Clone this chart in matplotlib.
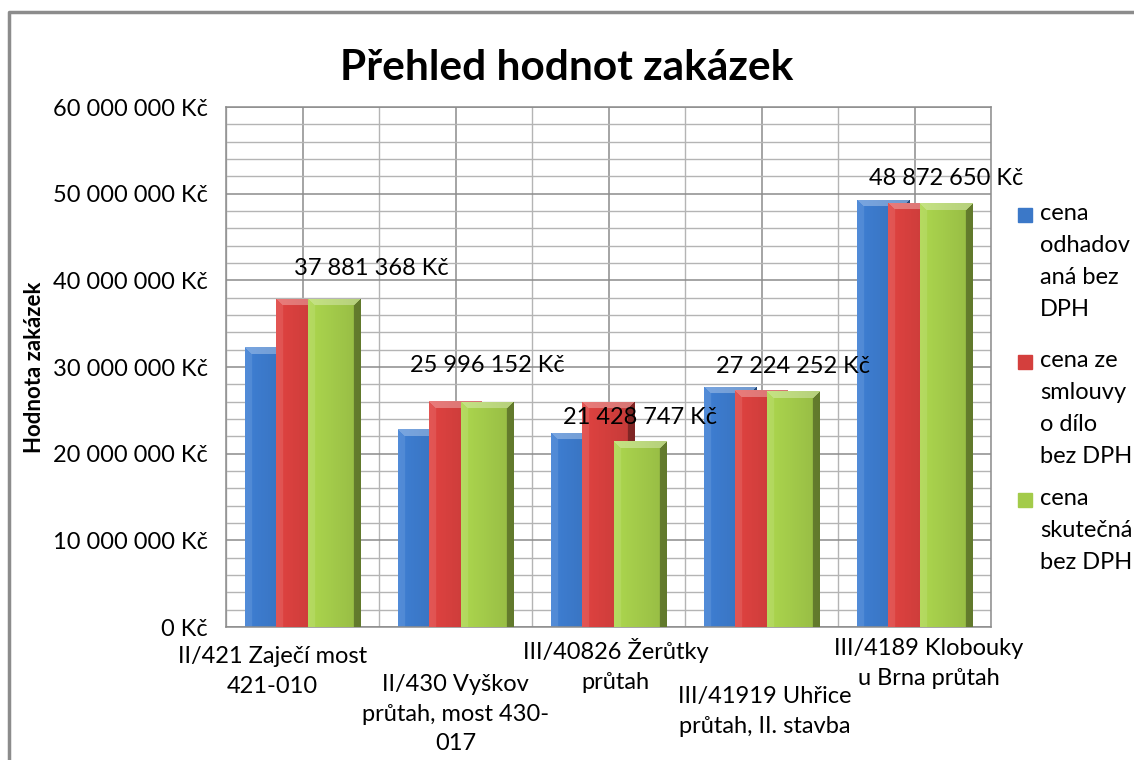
import numpy as np
import matplotlib
matplotlib.use("Agg")
from matplotlib import pyplot as plt
from matplotlib.colors import to_rgb
from matplotlib.lines import Line2D
from matplotlib.patches import Rectangle
from matplotlib.transforms import ScaledTranslation

plt.rcParams['font.family'] = ['Lato', 'DejaVu Sans']

# data
projekty = ["II/421 Zaječí most\n421-010",
            "II/430 Vyškov\nprůtah, most 430-\n017",
            "III/40826 Žerůtky\nprůtah",
            "III/41919 Uhřice\nprůtah, II. stavba",
            "III/4189 Klobouky\nu Brna průtah"]
odhad = [32_300_000, 22_800_000, 22_400_000, 27_700_000, 49_300_000]
smlouva = [37_900_000, 26_050_000, 26_000_000, 27_300_000, 48_950_000]
skutecna = [37_881_368, 25_996_152, 21_428_747, 27_224_252, 48_872_650]
serie = ["cena\nodhadov\naná bez\nDPH", "cena ze\nsmlouvy\no dílo\nbez DPH",
         "cena\nskutečná\nbez DPH"]
barvy = ["#3B78C8", "#D43F3D", "#A3CB4A"]

W, H = 1134, 760
fig = plt.figure(figsize=(W / 100, H / 100), dpi=100)
ax = fig.add_axes([226 / W, 1 - 627 / H, (991 - 226) / W, (627 - 107) / H])

ax.set_xlim(-0.5, len(projekty) - 0.5)
ax.set_ylim(0, 60_000_000)

# mrizka
ax.set_yticks(np.arange(0, 60_000_001, 10_000_000))
ax.set_yticks(np.arange(0, 60_000_001, 2_000_000), minor=True)
ax.set_xticks(range(len(projekty)))
ax.set_xticks(np.arange(-0.5, len(projekty)), minor=True)
ax.grid(True, which="major", color="#8C8C8C", lw=1.1)
ax.grid(True, which="minor", color="#B4B4B4", lw=1.0)
ax.set_axisbelow(True)
for s in ax.spines.values():
    s.set_color("#8C8C8C")
    s.set_linewidth(1.1)
ax.tick_params(which="both", length=0)
ax.tick_params(axis="y", pad=13, labelsize=17)
ax.tick_params(axis="x", pad=3, labelsize=17)
ax.set_yticklabels([(f"{int(v):,}".replace(",", " ") + " Kč")
                    for v in ax.get_yticks()])
ax.set_xticklabels(projekty, linespacing=1.5)

# posun popisku kategorii (px)
posun_x = [-30, 0, 7, 3, 14]
posun_y = [15, 43, 7, 55, 7]
for t, dx, dy in zip(ax.get_xticklabels(), posun_x, posun_y):
    t.set_y(-dy / 520)
    t.set_transform(t.get_transform() + ScaledTranslation(dx / 100, 0, fig.dpi_scale_trans))

sirka = 0.34
krok = 0.206
x = np.arange(len(projekty))


def bevel(color, wpx, hpx, b=7):
    base = np.array(to_rgb(color))
    ys, xs = np.mgrid[0:hpx, 0:wpx] + 0.5
    t = xs / max(wpx, 1)
    img = base[None, None, :] * (1.06 - 0.14 * t)[..., None]
    dl, dr, dt = xs, wpx - xs, ys
    m = np.minimum(np.minimum(dl, dr), dt)
    top = (dt == m) & (dt < b)
    left = (dl == m) & (dl < b) & ~top
    right = (dr == m) & (dr < b) & ~top
    img[top] = img[top] + (1 - img[top]) * 0.3
    img[left] = img[left] + (1 - img[left]) * 0.1
    img[right] = img[right] * 0.65
    return np.clip(img, 0, 1)


for i, (vals, barva) in enumerate(zip([odhad, smlouva, skutecna], barvy)):
    bars = ax.bar(x + (i - 1) * krok, vals, sirka, color=barva,
                  zorder=2 + i, lw=0)
    for b in bars:
        p0 = ax.transData.transform((b.get_x(), 0))
        p1 = ax.transData.transform((b.get_x() + b.get_width(), b.get_height()))
        wpx, hpx = int(round(p1[0] - p0[0])), int(round(p1[1] - p0[1]))
        im = ax.imshow(bevel(barva, wpx, hpx), origin="upper", aspect="auto",
                       extent=(b.get_x(), b.get_x() + b.get_width(), 0, b.get_height()),
                       zorder=2.5 + i, interpolation="bilinear")
        im.set_clip_path(b)
ax.set_xlim(-0.5, len(projekty) - 0.5)
ax.set_ylim(0, 60_000_000)

# popisky hodnot
popis_dx = [37, 0, 0, 0, 0]
popis_dy = [30, 36, 24, 25, 25]
for xi, v, dx, dy in zip(x + krok, skutecna, popis_dx, popis_dy):
    ax.annotate(f"{v:,}".replace(",", " ") + " Kč", (xi, v),
                xytext=(dx * 0.72, dy * 0.72), textcoords="offset points",
                ha="center", va="center", fontsize=17, zorder=10)

fig.text(567 / W, 1 - 68 / H, "Přehled hodnot zakázek", ha="center",
         va="center", fontsize=30.5, fontweight="bold")
fig.text(35 / W, 1 - 367 / H, "Hodnota zakázek", ha="center", va="center",
         rotation=90, fontsize=16, fontweight="bold")

# legenda
leg_y = [215, 362, 500]
for nazev, barva, yy in zip(serie, barvy, leg_y):
    fig.patches.append(Rectangle((1018 / W, 1 - (yy + 7) / H), 14 / W, 14 / H,
                                 transform=fig.transFigure, color=barva))
    fig.text(1040 / W, 1 - (yy - 12) / H, nazev, ha="left", va="top",
             fontsize=17, linespacing=1.65)

# ramecek grafu
fig.add_artist(Line2D([9 / W, 9 / W, 1.02], [-0.02, 1 - 12 / H, 1 - 12 / H],
                      color="#8C8C8C", lw=2.5, transform=fig.transFigure))

fig.savefig("out.png", dpi=100)
